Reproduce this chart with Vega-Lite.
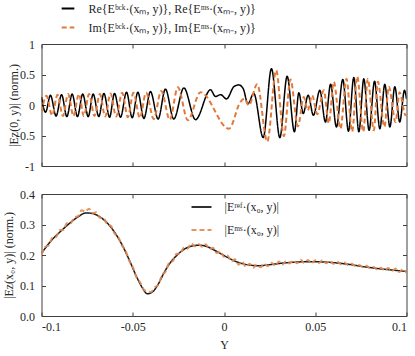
{
"$schema": "https://vega.github.io/schema/vega-lite/v6.json",
"padding": {"left": 1.5, "top": 1, "right": 5, "bottom": 5},
"background": "white",
"config": {
  "font": "Liberation Serif",
  "view": {"stroke": null},
  "axis": {"labelFont": "Liberation Serif", "titleFont": "Liberation Serif", "labelFontSize": 12, "titleFontSize": 12, "titleFontWeight": "normal", "labelColor": "#262626", "titleColor": "#262626", "domainColor": "#404040", "tickColor": "#404040", "grid": false, "tickSize": -4},
  "legend": {"labelFont": "Liberation Serif", "labelFontSize": 12, "labelColor": "#262626", "labelLimit": 400}
},
"datasets": {
  "top": [
    {"y": -0.1, "v": 0.13, "s": "Re"}, {"y": -0.0978, "v": -0.12, "s": "Re"}, {"y": -0.0951, "v": 0.16, "s": "Re"}, {"y": -0.092, "v": -0.18, "s": "Re"},
    {"y": -0.089, "v": 0.17, "s": "Re"}, {"y": -0.0861, "v": -0.19, "s": "Re"}, {"y": -0.0832, "v": 0.18, "s": "Re"}, {"y": -0.0803, "v": -0.19, "s": "Re"},
    {"y": -0.0774, "v": 0.18, "s": "Re"}, {"y": -0.0744, "v": -0.19, "s": "Re"}, {"y": -0.0717, "v": 0.18, "s": "Re"}, {"y": -0.0686, "v": -0.19, "s": "Re"},
    {"y": -0.0658, "v": 0.19, "s": "Re"}, {"y": -0.0627, "v": -0.2, "s": "Re"}, {"y": -0.06, "v": 0.19, "s": "Re"}, {"y": -0.0567, "v": -0.2, "s": "Re"},
    {"y": -0.0534, "v": 0.21, "s": "Re"}, {"y": -0.0503, "v": -0.21, "s": "Re"}, {"y": -0.0472, "v": 0.21, "s": "Re"}, {"y": -0.0439, "v": -0.22, "s": "Re"},
    {"y": -0.0403, "v": 0.22, "s": "Re"}, {"y": -0.0361, "v": -0.23, "s": "Re"}, {"y": -0.0321, "v": 0.26, "s": "Re"}, {"y": -0.0275, "v": -0.23, "s": "Re"},
    {"y": -0.022, "v": 0.28, "s": "Re"}, {"y": -0.0156, "v": -0.24, "s": "Re"}, {"y": -0.0074, "v": 0.25, "s": "Re"}, {"y": -0.0047, "v": 0.14, "s": "Re"},
    {"y": -0.0019, "v": 0.17, "s": "Re"}, {"y": 0.0014, "v": 0.10, "s": "Re"}, {"y": 0.0054, "v": 0.30, "s": "Re"}, {"y": 0.0081, "v": 0.33, "s": "Re"},
    {"y": 0.0105, "v": 0.27, "s": "Re"}, {"y": 0.0131, "v": 0.02, "s": "Re"}, {"y": 0.0163, "v": 0.19, "s": "Re"}, {"y": 0.0215, "v": -0.535, "s": "Re"},
    {"y": 0.026, "v": 0.596, "s": "Re"}, {"y": 0.0306, "v": -0.535, "s": "Re"}, {"y": 0.0346, "v": 0.47, "s": "Re"}, {"y": 0.0386, "v": -0.44, "s": "Re"},
    {"y": 0.041, "v": 0.2, "s": "Re"}, {"y": 0.0434, "v": -0.14, "s": "Re"}, {"y": 0.0461, "v": 0.16, "s": "Re"}, {"y": 0.049, "v": -0.17, "s": "Re"},
    {"y": 0.0525, "v": 0.24, "s": "Re"}, {"y": 0.0556, "v": -0.28, "s": "Re"}, {"y": 0.0584, "v": 0.34, "s": "Re"}, {"y": 0.0616, "v": -0.36, "s": "Re"},
    {"y": 0.0651, "v": 0.42, "s": "Re"}, {"y": 0.0682, "v": -0.43, "s": "Re"}, {"y": 0.0711, "v": 0.45, "s": "Re"}, {"y": 0.0739, "v": -0.44, "s": "Re"},
    {"y": 0.0766, "v": 0.43, "s": "Re"}, {"y": 0.0795, "v": -0.415, "s": "Re"}, {"y": 0.0825, "v": 0.39, "s": "Re"}, {"y": 0.0854, "v": -0.39, "s": "Re"},
    {"y": 0.0881, "v": 0.34, "s": "Re"}, {"y": 0.0909, "v": -0.36, "s": "Re"}, {"y": 0.0936, "v": 0.3, "s": "Re"}, {"y": 0.0963, "v": -0.28, "s": "Re"},
    {"y": 0.0989, "v": 0.24, "s": "Re"}, {"y": 0.1, "v": 0.1, "s": "Re"},
    {"y": -0.1, "v": -0.12, "s": "Im"}, {"y": -0.0973, "v": 0.15, "s": "Im"}, {"y": -0.0942, "v": -0.17, "s": "Im"}, {"y": -0.0912, "v": 0.17, "s": "Im"},
    {"y": -0.0883, "v": -0.18, "s": "Im"}, {"y": -0.0854, "v": 0.18, "s": "Im"}, {"y": -0.0825, "v": -0.18, "s": "Im"}, {"y": -0.0795, "v": 0.18, "s": "Im"},
    {"y": -0.0768, "v": -0.18, "s": "Im"}, {"y": -0.0739, "v": 0.18, "s": "Im"}, {"y": -0.071, "v": -0.18, "s": "Im"}, {"y": -0.068, "v": 0.18, "s": "Im"},
    {"y": -0.0651, "v": -0.19, "s": "Im"}, {"y": -0.0622, "v": 0.19, "s": "Im"}, {"y": -0.0591, "v": -0.19, "s": "Im"}, {"y": -0.0558, "v": 0.2, "s": "Im"},
    {"y": -0.0527, "v": -0.2, "s": "Im"}, {"y": -0.0496, "v": 0.2, "s": "Im"}, {"y": -0.0461, "v": -0.21, "s": "Im"}, {"y": -0.0427, "v": 0.2, "s": "Im"},
    {"y": -0.0385, "v": -0.23, "s": "Im"}, {"y": -0.0344, "v": 0.23, "s": "Im"}, {"y": -0.0297, "v": -0.24, "s": "Im"}, {"y": -0.0253, "v": 0.29, "s": "Im"},
    {"y": -0.0198, "v": -0.25, "s": "Im"}, {"y": -0.0129, "v": 0.21, "s": "Im"}, {"y": 0.0027, "v": -0.39, "s": "Im"}, {"y": 0.009, "v": 0.05, "s": "Im"},
    {"y": 0.0112, "v": 0.104, "s": "Im"}, {"y": 0.0136, "v": -0.005, "s": "Im"}, {"y": 0.0182, "v": 0.34, "s": "Im"}, {"y": 0.0237, "v": -0.6, "s": "Im"},
    {"y": 0.0286, "v": 0.57, "s": "Im"}, {"y": 0.0328, "v": -0.51, "s": "Im"}, {"y": 0.0364, "v": 0.42, "s": "Im"}, {"y": 0.0405, "v": -0.35, "s": "Im"},
    {"y": 0.0437, "v": 0.13, "s": "Im"}, {"y": 0.0459, "v": -0.09, "s": "Im"}, {"y": 0.0483, "v": 0.16, "s": "Im"}, {"y": 0.0511, "v": -0.15, "s": "Im"},
    {"y": 0.0547, "v": 0.24, "s": "Im"}, {"y": 0.0574, "v": -0.3, "s": "Im"}, {"y": 0.0602, "v": 0.38, "s": "Im"}, {"y": 0.0638, "v": -0.39, "s": "Im"},
    {"y": 0.0671, "v": 0.43, "s": "Im"}, {"y": 0.0702, "v": -0.44, "s": "Im"}, {"y": 0.073, "v": 0.47, "s": "Im"}, {"y": 0.0763, "v": -0.44, "s": "Im"},
    {"y": 0.0788, "v": 0.43, "s": "Im"}, {"y": 0.0821, "v": -0.415, "s": "Im"}, {"y": 0.0843, "v": 0.38, "s": "Im"}, {"y": 0.0879, "v": -0.36, "s": "Im"},
    {"y": 0.0903, "v": 0.3, "s": "Im"}, {"y": 0.094, "v": -0.28, "s": "Im"}, {"y": 0.0962, "v": 0.21, "s": "Im"}, {"y": 0.0995, "v": -0.17, "s": "Im"},
    {"y": 0.1, "v": -0.15, "s": "Im"}
  ],
  "bot": [
    {"y": -0.1, "v": 0.205, "s": "ref"}, {"y": -0.095, "v": 0.245, "s": "ref"}, {"y": -0.09, "v": 0.275, "s": "ref"}, {"y": -0.085, "v": 0.302, "s": "ref"},
    {"y": -0.08, "v": 0.325, "s": "ref"}, {"y": -0.0755, "v": 0.338, "s": "ref"}, {"y": -0.072, "v": 0.336, "s": "ref"}, {"y": -0.068, "v": 0.325, "s": "ref"},
    {"y": -0.064, "v": 0.305, "s": "ref"}, {"y": -0.06, "v": 0.275, "s": "ref"}, {"y": -0.056, "v": 0.235, "s": "ref"}, {"y": -0.052, "v": 0.185, "s": "ref"},
    {"y": -0.048, "v": 0.13, "s": "ref"}, {"y": -0.045, "v": 0.095, "s": "ref"}, {"y": -0.042, "v": 0.073, "s": "ref"}, {"y": -0.039, "v": 0.08, "s": "ref"},
    {"y": -0.036, "v": 0.105, "s": "ref"}, {"y": -0.033, "v": 0.14, "s": "ref"}, {"y": -0.03, "v": 0.17, "s": "ref"}, {"y": -0.026, "v": 0.198, "s": "ref"},
    {"y": -0.022, "v": 0.218, "s": "ref"}, {"y": -0.018, "v": 0.229, "s": "ref"}, {"y": -0.014, "v": 0.232, "s": "ref"}, {"y": -0.01, "v": 0.229, "s": "ref"},
    {"y": -0.006, "v": 0.218, "s": "ref"}, {"y": -0.002, "v": 0.205, "s": "ref"}, {"y": 0.002, "v": 0.192, "s": "ref"}, {"y": 0.006, "v": 0.18, "s": "ref"},
    {"y": 0.01, "v": 0.172, "s": "ref"}, {"y": 0.014, "v": 0.167, "s": "ref"}, {"y": 0.018, "v": 0.165, "s": "ref"}, {"y": 0.022, "v": 0.166, "s": "ref"},
    {"y": 0.026, "v": 0.169, "s": "ref"}, {"y": 0.03, "v": 0.172, "s": "ref"}, {"y": 0.035, "v": 0.175, "s": "ref"}, {"y": 0.04, "v": 0.177, "s": "ref"},
    {"y": 0.045, "v": 0.178, "s": "ref"}, {"y": 0.05, "v": 0.178, "s": "ref"}, {"y": 0.055, "v": 0.177, "s": "ref"}, {"y": 0.06, "v": 0.175, "s": "ref"},
    {"y": 0.065, "v": 0.172, "s": "ref"}, {"y": 0.07, "v": 0.168, "s": "ref"}, {"y": 0.075, "v": 0.163, "s": "ref"}, {"y": 0.08, "v": 0.159, "s": "ref"},
    {"y": 0.085, "v": 0.155, "s": "ref"}, {"y": 0.09, "v": 0.152, "s": "ref"}, {"y": 0.095, "v": 0.149, "s": "ref"}, {"y": 0.1, "v": 0.146, "s": "ref"},
    {"y": -0.1, "v": 0.201, "s": "ms"}, {"y": -0.098, "v": 0.226, "s": "ms"}, {"y": -0.096, "v": 0.232, "s": "ms"}, {"y": -0.094, "v": 0.257, "s": "ms"},
    {"y": -0.092, "v": 0.259, "s": "ms"}, {"y": -0.09, "v": 0.282, "s": "ms"}, {"y": -0.088, "v": 0.282, "s": "ms"}, {"y": -0.086, "v": 0.305, "s": "ms"},
    {"y": -0.084, "v": 0.304, "s": "ms"}, {"y": -0.082, "v": 0.324, "s": "ms"}, {"y": -0.08, "v": 0.327, "s": "ms"}, {"y": -0.078, "v": 0.347, "s": "ms"},
    {"y": -0.076, "v": 0.342, "s": "ms"}, {"y": -0.074, "v": 0.352, "s": "ms"}, {"y": -0.072, "v": 0.338, "s": "ms"}, {"y": -0.07, "v": 0.34, "s": "ms"},
    {"y": -0.068, "v": 0.322, "s": "ms"}, {"y": -0.066, "v": 0.321, "s": "ms"}, {"y": -0.064, "v": 0.301, "s": "ms"}, {"y": -0.062, "v": 0.296, "s": "ms"},
    {"y": -0.06, "v": 0.271, "s": "ms"}, {"y": -0.058, "v": 0.26, "s": "ms"}, {"y": -0.056, "v": 0.232, "s": "ms"}, {"y": -0.054, "v": 0.215, "s": "ms"},
    {"y": -0.052, "v": 0.182, "s": "ms"}, {"y": -0.05, "v": 0.161, "s": "ms"}, {"y": -0.048, "v": 0.127, "s": "ms"}, {"y": -0.046, "v": 0.111, "s": "ms"},
    {"y": -0.044, "v": 0.087, "s": "ms"}, {"y": -0.042, "v": 0.081, "s": "ms"}, {"y": -0.04, "v": 0.079, "s": "ms"}, {"y": -0.038, "v": 0.094, "s": "ms"},
    {"y": -0.036, "v": 0.102, "s": "ms"}, {"y": -0.034, "v": 0.134, "s": "ms"}, {"y": -0.032, "v": 0.146, "s": "ms"}, {"y": -0.03, "v": 0.175, "s": "ms"},
    {"y": -0.028, "v": 0.18, "s": "ms"}, {"y": -0.026, "v": 0.204, "s": "ms"}, {"y": -0.024, "v": 0.204, "s": "ms"}, {"y": -0.022, "v": 0.224, "s": "ms"},
    {"y": -0.02, "v": 0.2205, "s": "ms"}, {"y": -0.018, "v": 0.238, "s": "ms"}, {"y": -0.016, "v": 0.2285, "s": "ms"}, {"y": -0.014, "v": 0.236, "s": "ms"},
    {"y": -0.012, "v": 0.2265, "s": "ms"}, {"y": -0.01, "v": 0.235, "s": "ms"}, {"y": -0.008, "v": 0.2195, "s": "ms"}, {"y": -0.006, "v": 0.224, "s": "ms"},
    {"y": -0.004, "v": 0.2065, "s": "ms"}, {"y": -0.002, "v": 0.212, "s": "ms"}, {"y": 0.0, "v": 0.1935, "s": "ms"}, {"y": 0.002, "v": 0.198, "s": "ms"},
    {"y": 0.004, "v": 0.179, "s": "ms"}, {"y": 0.006, "v": 0.186, "s": "ms"}, {"y": 0.008, "v": 0.168, "s": "ms"}, {"y": 0.01, "v": 0.178, "s": "ms"},
    {"y": 0.012, "v": 0.1605, "s": "ms"}, {"y": 0.014, "v": 0.171, "s": "ms"}, {"y": 0.016, "v": 0.158, "s": "ms"}, {"y": 0.018, "v": 0.169, "s": "ms"},
    {"y": 0.02, "v": 0.1595, "s": "ms"}, {"y": 0.022, "v": 0.171, "s": "ms"}, {"y": 0.024, "v": 0.1635, "s": "ms"}, {"y": 0.026, "v": 0.175, "s": "ms"},
    {"y": 0.028, "v": 0.1645, "s": "ms"}, {"y": 0.03, "v": 0.179, "s": "ms"}, {"y": 0.032, "v": 0.1688, "s": "ms"}, {"y": 0.034, "v": 0.1804, "s": "ms"},
    {"y": 0.036, "v": 0.1724, "s": "ms"}, {"y": 0.038, "v": 0.1822, "s": "ms"}, {"y": 0.04, "v": 0.173, "s": "ms"}, {"y": 0.042, "v": 0.1844, "s": "ms"},
    {"y": 0.044, "v": 0.1738, "s": "ms"}, {"y": 0.046, "v": 0.184, "s": "ms"}, {"y": 0.048, "v": 0.173, "s": "ms"}, {"y": 0.05, "v": 0.183, "s": "ms"},
    {"y": 0.052, "v": 0.1736, "s": "ms"}, {"y": 0.054, "v": 0.1832, "s": "ms"}, {"y": 0.056, "v": 0.1726, "s": "ms"}, {"y": 0.058, "v": 0.1808, "s": "ms"},
    {"y": 0.06, "v": 0.171, "s": "ms"}, {"y": 0.062, "v": 0.1788, "s": "ms"}, {"y": 0.064, "v": 0.1696, "s": "ms"}, {"y": 0.066, "v": 0.1752, "s": "ms"},
    {"y": 0.068, "v": 0.1666, "s": "ms"}, {"y": 0.07, "v": 0.171, "s": "ms"}, {"y": 0.072, "v": 0.164, "s": "ms"}, {"y": 0.074, "v": 0.167, "s": "ms"},
    {"y": 0.076, "v": 0.1602, "s": "ms"}, {"y": 0.078, "v": 0.1646, "s": "ms"}, {"y": 0.08, "v": 0.157, "s": "ms"}, {"y": 0.082, "v": 0.1604, "s": "ms"},
    {"y": 0.084, "v": 0.1518, "s": "ms"}, {"y": 0.086, "v": 0.1584, "s": "ms"}, {"y": 0.088, "v": 0.1492, "s": "ms"}, {"y": 0.09, "v": 0.157, "s": "ms"},
    {"y": 0.092, "v": 0.1468, "s": "ms"}, {"y": 0.094, "v": 0.1556, "s": "ms"}, {"y": 0.096, "v": 0.1444, "s": "ms"}, {"y": 0.098, "v": 0.1532, "s": "ms"},
    {"y": 0.1, "v": 0.142, "s": "ms"}
  ]
},
"vconcat": [
  {
    "width": 365, "height": 122,
    "data": {"name": "top"},
    "encoding": {
      "color": {"field": "s", "type": "nominal", "scale": {"domain": ["Re", "Im"], "range": ["#000000", "#E07A3C"]},
        "legend": {"orient": "none", "legendX": 19, "legendY": -43, "title": null, "direction": "vertical", "symbolType": "stroke", "symbolSize": 160, "symbolStrokeWidth": 1.8, "labelOffset": 13, "rowPadding": 5, "padding": 0,
          "labelExpr": "datum.label == 'Re' ? 'Re{Eᵇᶜᵏ·(xₘ, y)}, Re{Eᵐˢ·(xₘ₋, y)}' : 'Im{Eᵇᶜᵏ·(xₘ, y)}, Im{Eᵐˢ·(xₘ₋, y)}'"}},
      "strokeDash": {"field": "s", "type": "nominal", "scale": {"domain": ["Re", "Im"], "range": [[1, 0], [5, 3]]},
        "legend": {"orient": "none", "legendX": 19, "legendY": -43, "title": null, "direction": "vertical", "symbolType": "stroke", "symbolSize": 160, "symbolStrokeWidth": 1.8, "labelOffset": 13, "rowPadding": 5, "padding": 0,
          "labelExpr": "datum.label == 'Re' ? 'Re{Eᵇᶜᵏ·(xₘ, y)}, Re{Eᵐˢ·(xₘ₋, y)}' : 'Im{Eᵇᶜᵏ·(xₘ, y)}, Im{Eᵐˢ·(xₘ₋, y)}'"}}
    },
    "layer": [
      {
        "transform": [{"filter": "datum.s == 'Re'"}],
        "mark": {"type": "line", "interpolate": "monotone", "strokeWidth": 1.5, "clip": true},
        "encoding": {
          "x": {"field": "y", "type": "quantitative", "scale": {"domain": [-0.1, 0.1], "nice": false, "zero": false},
            "axis": {"orient": "bottom", "values": [-0.1, -0.05, 0, 0.05, 0.1], "labels": false, "title": null}},
          "y": {"field": "v", "type": "quantitative", "scale": {"domain": [-1, 1], "nice": false},
            "axis": {"orient": "left", "values": [-1, -0.5, 0, 0.5, 1], "labelPadding": 11, "title": "|Ez(0, y)| (norm.)", "titleX": -28, "titleBaseline": "middle",
              "labelExpr": "datum.value < 0 ? '-' + format(-datum.value, '') : format(datum.value, '')"}}
        }
      },
      {
        "transform": [{"filter": "datum.s == 'Im'"}],
        "mark": {"type": "line", "interpolate": "monotone", "strokeWidth": 2, "clip": true},
        "encoding": {
          "x": {"field": "y", "type": "quantitative", "scale": {"domain": [-0.1, 0.1], "nice": false, "zero": false},
            "axis": {"orient": "top", "values": [-0.1, -0.05, 0, 0.05, 0.1], "labels": false, "title": null}},
          "y": {"field": "v", "type": "quantitative", "scale": {"domain": [-1, 1], "nice": false},
            "axis": {"orient": "right", "values": [-1, -0.5, 0, 0.5, 1], "labels": false, "title": null}}
        }
      }
    ],
    "resolve": {"axis": {"x": "independent", "y": "independent"}}
  },
  {
    "width": 365, "height": 122,
    "data": {"name": "bot"},
    "encoding": {
      "color": {"field": "s", "type": "nominal", "scale": {"domain": ["ref", "ms"], "range": ["#1a1a1a", "#E58A50"]},
        "legend": {"orient": "none", "legendX": 149, "legendY": 2, "title": null, "direction": "vertical", "symbolType": "stroke", "symbolSize": 400, "symbolStrokeWidth": 1.8, "labelOffset": 12, "rowPadding": 6, "padding": 0,
          "labelExpr": "datum.label == 'ref' ? '|Eʳᵉᶠ·(x₀, y)|' : '|Eᵐˢ·(x₀, y)|'"}},
      "strokeDash": {"field": "s", "type": "nominal", "scale": {"domain": ["ref", "ms"], "range": [[1, 0], [5, 3]]},
        "legend": {"orient": "none", "legendX": 149, "legendY": 2, "title": null, "direction": "vertical", "symbolType": "stroke", "symbolSize": 400, "symbolStrokeWidth": 1.8, "labelOffset": 12, "rowPadding": 6, "padding": 0,
          "labelExpr": "datum.label == 'ref' ? '|Eʳᵉᶠ·(x₀, y)|' : '|Eᵐˢ·(x₀, y)|'"}}
    },
    "layer": [
      {
        "transform": [{"filter": "datum.s == 'ref'"}],
        "mark": {"type": "line", "interpolate": "monotone", "strokeWidth": 1.5, "clip": true},
        "encoding": {
          "x": {"field": "y", "type": "quantitative", "scale": {"domain": [-0.1, 0.1], "nice": false, "zero": false},
            "axis": {"orient": "bottom", "values": [-0.1, -0.05, 0, 0.05, 0.1], "labelPadding": 9, "titlePadding": 7, "title": "Y",
              "labelExpr": "datum.value < 0 ? '-' + format(-datum.value, '') : format(datum.value, '')"}},
          "y": {"field": "v", "type": "quantitative", "scale": {"domain": [0, 0.4], "nice": false},
            "axis": {"orient": "left", "values": [0, 0.1, 0.2, 0.3, 0.4], "labelPadding": 11, "title": "|Ez(x₀, y)| (norm.)", "titleX": -33.5, "titleBaseline": "middle"}}
        }
      },
      {
        "transform": [{"filter": "datum.s == 'ms'"}],
        "mark": {"type": "line", "interpolate": "monotone", "strokeWidth": 2, "opacity": 0.9, "clip": true},
        "encoding": {
          "x": {"field": "y", "type": "quantitative", "scale": {"domain": [-0.1, 0.1], "nice": false, "zero": false},
            "axis": {"orient": "top", "values": [-0.1, -0.05, 0, 0.05, 0.1], "labels": false, "title": null}},
          "y": {"field": "v", "type": "quantitative", "scale": {"domain": [0, 0.4], "nice": false},
            "axis": {"orient": "right", "values": [0, 0.1, 0.2, 0.3, 0.4], "labels": false, "title": null}}
        }
      }
    ],
    "resolve": {"axis": {"x": "independent", "y": "independent"}}
  }
],
"spacing": 28,
"bounds": "flush",
"resolve": {"scale": {"color": "independent", "strokeDash": "independent"}}
}
